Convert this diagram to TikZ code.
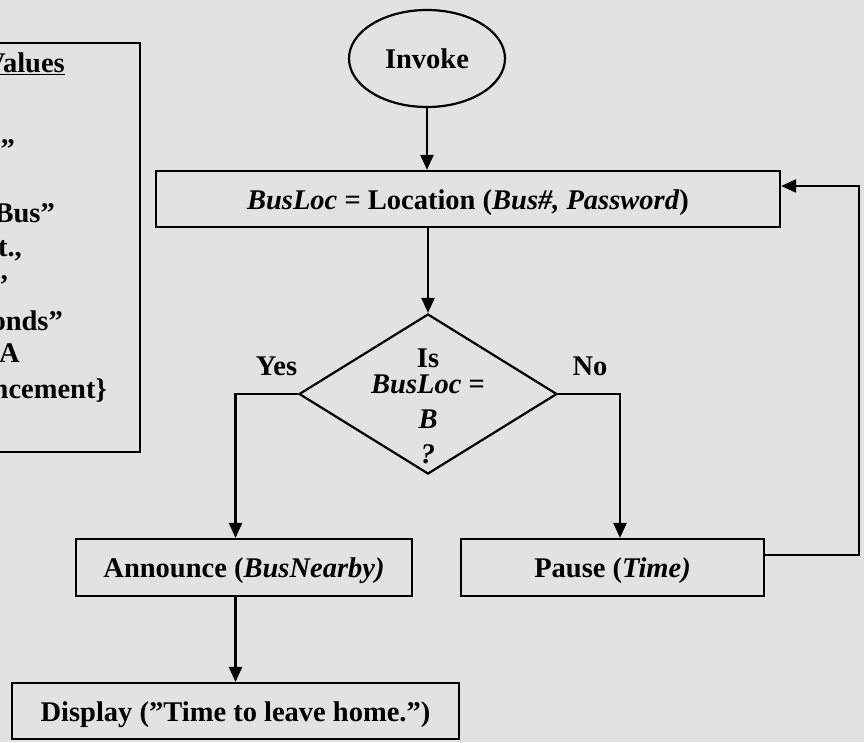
\documentclass[tikz,border=0pt]{standalone}
\usepackage{fontspec}
\setmainfont{Liberation Serif}
\usetikzlibrary{arrows.meta,shapes.geometric}
\definecolor{marble}{RGB}{226,226,226}

\begin{document}
\begin{tikzpicture}[x=1pt,y=-1pt,
      font=\fontsize{28.5}{35}\selectfont\bfseries,
      box/.style={draw, line width=2.2pt, text height=20pt, text depth=0pt},
      arr/.style={line width=2.2pt, -{Triangle[length=15pt,width=13pt]}},
      frag/.style={anchor=base east, inner sep=0pt}]
      \fill[marble] (0,0) rectangle (864,742);
      \useasboundingbox (0,0) rectangle (864,742);
      % values box, cut at the left edge
      \draw[line width=1.8pt] (-10,43) rectangle (140,452);
      \node[frag] (val) at (65,72) {\underline{Values}};
      \node[frag] (v1) at (15,158) {”};
      \node[frag] (v2) at (55,222) {Bus”};
      \node[frag] (v3) at (22,256) {t.,};
      \node[frag] (v4) at (9,294) {’};
      \node[frag] (v5) at (63,330) {onds”};
      \node[frag] (v6) at (20,362) {A};
      \node[frag] (v7) at (107,398) {ncement\}};
      % flow chart
      \node[box, ellipse, minimum width=156pt, minimum height=97pt] (invoke) at (427,58.5) {Invoke};
      \node[box, minimum width=624pt, minimum height=56pt] (loc) at (468,199)
            {\textit{BusLoc} = Location (\textit{Bus\#, Password})};
      \node[box, diamond, minimum width=258pt, minimum height=160pt] (dec) at (428,394) {};
      \node[align=center, inner sep=0pt] (ask) at (428,406)
            {Is\\[-9pt]\textit{BusLoc} =\\\textit{B}\\\textit{?}};
      \node (yes) at (276.5,366) {Yes};
      \node (no) at (590,366) {No};
      \node[box, minimum width=336pt, minimum height=57pt] (ann) at (244,567.5) {Announce (\textit{BusNearby)}};
      \node[box, minimum width=303pt, minimum height=57pt] (pause) at (612.5,567.5) {Pause (\textit{Time)}};
      \node[box, minimum width=447pt, minimum height=56pt] (disp) at (235.5,711) {Display (”Time to leave home.”)};
      \coordinate (back) at (859,186);
      \draw[arr] (invoke.south) -- (invoke.south |- loc.north);
      \draw[arr] (loc.south -| dec.north) -- (dec.north);
      \draw[arr] (dec.west) -| (disp.north |- ann.north);
      \draw[arr] (ann.south -| disp.north) -- (disp.north);
      \draw[arr] (dec.east) -| ([xshift=7.5pt]pause.north);
      \draw[arr] ([yshift=12.5pt]pause.east) -| (back) -- ([yshift=13pt]loc.east);
\end{tikzpicture}
\end{document}
